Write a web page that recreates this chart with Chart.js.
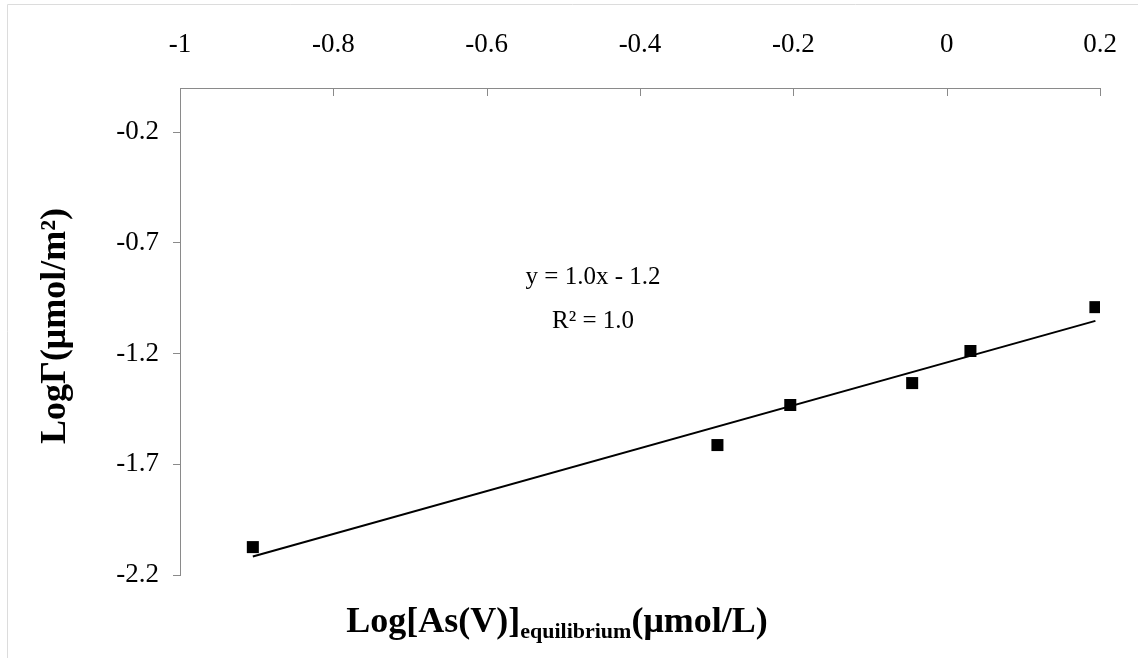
<!DOCTYPE html>
<html>
<head>
<meta charset="utf-8">
<title>Log adsorption isotherm</title>
<script src="https://cdn.jsdelivr.net/npm/chart.js@4/dist/chart.umd.min.js"></script>
<style>
  html, body { margin: 0; padding: 0; background: #fff; }
  #wrap { position: relative; width: 1138px; height: 658px; }
</style>
</head>
<body>
<div id="wrap"><canvas id="myChart" width="1138" height="658"></canvas></div>
<script>
// measured points: log equilibrium As(V) vs log surface excess
var logConc = [-0.905, -0.299, -0.204, -0.045, 0.031, 0.194];
var logGamma = [-2.074, -1.613, -1.432, -1.333, -1.188, -0.990];

// axis ticks
var xTicks = [-1, -0.8, -0.6, -0.4, -0.2, 0, 0.2];
var yTicks = [-2.2, -1.7, -1.2, -0.7, -0.2];

var serif = "'Liberation Serif', 'Times New Roman', serif";
var axisGrey = '#8a8a8a';

// least squares fit for the trend line
var n = logConc.length, mx = 0, my = 0;
for (var i = 0; i < n; i++) { mx += logConc[i]; my += logGamma[i]; }
mx /= n; my /= n;
var sxy = 0, sxx = 0, syy = 0;
for (var i = 0; i < n; i++) {
    sxy += (logConc[i] - mx) * (logGamma[i] - my);
    sxx += (logConc[i] - mx) * (logConc[i] - mx);
    syy += (logGamma[i] - my) * (logGamma[i] - my);
}
var slope = sxy / sxx;
var intercept = my - slope * mx;
var r2 = (sxy * sxy) / (sxx * syy);

var points = logConc.map(function(x, i){ return {x: x, y: logGamma[i]}; });
var xMin = Math.min.apply(null, logConc), xMax = Math.max.apply(null, logConc);
var fitLine = [
    {x: xMin, y: slope * xMin + intercept},
    {x: xMax, y: slope * xMax + intercept}
];

function fmt(v) { return String(Number(v.toFixed(1))); }

var eqText = 'y = ' + slope.toFixed(1) + 'x ' + (intercept < 0 ? '- ' : '+ ') + Math.abs(intercept).toFixed(1);
var r2Text = 'R\u00B2 = ' + r2.toFixed(1);

// titles, equation, inner x ticks and the frame
var decorations = {
    id: 'decorations',
    afterDraw: function(chart) {
        var ctx = chart.ctx;
        var area = chart.chartArea;
        var xs = chart.scales.x;
        ctx.save();

        // light frame
        ctx.strokeStyle = '#dcdcdc';
        ctx.lineWidth = 1;
        ctx.beginPath();
        ctx.moveTo(7.5, 658);
        ctx.lineTo(7.5, 4.5);
        ctx.lineTo(1138, 4.5);
        ctx.stroke();

        // x ticks point down into the plot
        ctx.strokeStyle = axisGrey;
        ctx.beginPath();
        xs.ticks.forEach(function(t){
            var px = Math.round(xs.getPixelForValue(t.value)) + 0.5;
            ctx.moveTo(px, area.top);
            ctx.lineTo(px, area.top + 8);
        });
        ctx.stroke();

        // equation
        ctx.fillStyle = '#000';
        ctx.textAlign = 'center';
        ctx.textBaseline = 'alphabetic';
        ctx.font = '25px ' + serif;
        ctx.fillText(eqText, 593, 284);
        ctx.fillText(r2Text, 593, 328);

        // x title with subscript
        var big = 'bold 36px ' + serif, small = 'bold 22px ' + serif;
        var p1 = 'Log[As(V)]', p2 = 'equilibrium', p3 = '(\u03BCmol/L)';
        ctx.font = big; var w1 = ctx.measureText(p1).width, w3 = ctx.measureText(p3).width;
        ctx.font = small; var w2 = ctx.measureText(p2).width;
        var x0 = 557 - (w1 + w2 + w3) / 2, base = 632;
        ctx.textAlign = 'left';
        ctx.font = big; ctx.fillText(p1, x0, base);
        ctx.font = small; ctx.fillText(p2, x0 + w1, base + 6);
        ctx.font = big; ctx.fillText(p3, x0 + w1 + w2, base);

        // y title
        ctx.translate(65, 326);
        ctx.rotate(-Math.PI / 2);
        ctx.textAlign = 'center';
        ctx.font = 'bold 36px ' + serif;
        ctx.fillText('Log\u0393(\u03BCmol/m\u00B2)', 0, 0);

        ctx.restore();
    }
};

var ctx = document.getElementById('myChart').getContext('2d');
var chart = new Chart(ctx, {
    type: 'scatter',
    data: {
        datasets: [{
            label: 'data',
            data: points,
            pointStyle: 'rect',
            pointRadius: 8.5,
            backgroundColor: '#000',
            borderWidth: 0
        }, {
            label: 'fit',
            type: 'line',
            data: fitLine,
            borderColor: '#000',
            borderWidth: 2,
            pointRadius: 0,
            fill: false
        }]
    },
    options: {
        responsive: false,
        animation: false,
        layout: { padding: { left: 0, top: 0, right: 38, bottom: 83 } },
        plugins: { legend: { display: false }, tooltip: { enabled: false } },
        scales: {
            x: {
                type: 'linear',
                position: 'top',
                min: -1,
                max: 0.2,
                afterBuildTicks: function(s){ s.ticks = xTicks.map(function(v){ return {value: v}; }); },
                afterFit: function(s){
                    s.height = 88;
                    // end labels may overhang, the layout padding covers them
                    s.paddingLeft = 0;
                    s.paddingRight = 0;
                },
                grid: { display: true, drawOnChartArea: false, drawTicks: false },
                border: { display: true, color: axisGrey, width: 1 },
                ticks: {
                    color: '#000',
                    font: { family: serif, size: 27 },
                    padding: 27,
                    maxRotation: 0,
                    callback: function(v){ return fmt(v); }
                }
            },
            y: {
                type: 'linear',
                position: 'left',
                min: -2.2,
                max: 0,
                afterBuildTicks: function(s){ s.ticks = yTicks.map(function(v){ return {value: v}; }); },
                afterFit: function(s){ s.width = 180; },
                grid: { display: true, drawOnChartArea: false, drawTicks: true, tickLength: 7, color: axisGrey },
                border: { display: true, color: axisGrey, width: 1 },
                ticks: {
                    color: '#000',
                    font: { family: serif, size: 27 },
                    padding: 14,
                    callback: function(v){ return fmt(v); }
                }
            }
        }
    },
    plugins: [decorations]
});
</script>
</body>
</html>
